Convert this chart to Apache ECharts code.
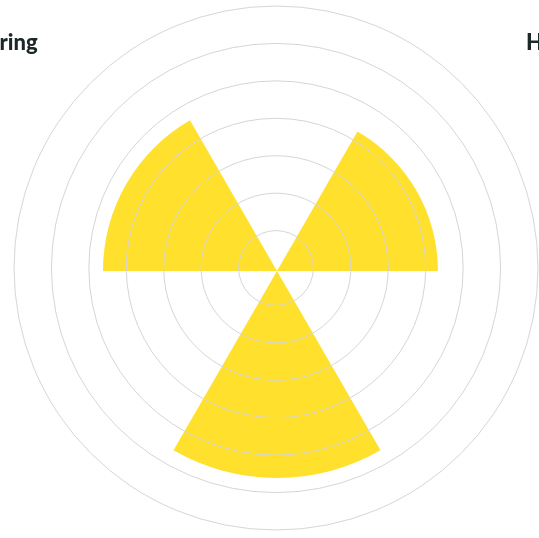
<!DOCTYPE html>
<html>
<head>
<meta charset="utf-8">
<script src="https://cdn.jsdelivr.net/npm/echarts@6/dist/echarts.min.js"></script>
<style>
  html, body { margin: 0; padding: 0; background: #ffffff; }
  #chart { width: 539px; height: 538px; }
</style>
</head>
<body>
<div id="chart"></div>
<script>
// Seasons and their values (radial length of each wedge)
const categories = ['Harvest', 'Winter', 'Spring'];
const values = [43, 55.3, 46.5];

// Radial scale shared by the rings and the wedges
const radiusMax = 70;
const radiusStep = 10;

const ink = '#1c2729';
const wedgeColor = '#FFE02C';
const ringColor = '#d6d6d6';

const chart = echarts.init(document.getElementById('chart'), null, { renderer: 'canvas' });

chart.setOption({
  animation: false,
  backgroundColor: '#ffffff',
  polar: [
    { center: [276, 268], radius: 262 },   // concentric reference rings
    { center: [277, 271], radius: 262 }    // wedges
  ],
  angleAxis: [
    {
      polarIndex: 0, type: 'category', data: categories, startAngle: 90,
      axisLine: { show: false }, axisTick: { show: false },
      axisLabel: { show: false }, splitLine: { show: false }
    },
    {
      polarIndex: 1, type: 'category', data: categories, startAngle: 90,
      axisLine: { show: false }, axisTick: { show: false },
      axisLabel: { show: false }, splitLine: { show: false }
    }
  ],
  radiusAxis: [
    {
      polarIndex: 0, min: 0, max: radiusMax, interval: radiusStep, z: 10,
      axisLine: { show: false }, axisTick: { show: false }, axisLabel: { show: false },
      splitLine: { show: true, lineStyle: { color: ringColor, width: 1 } }
    },
    {
      polarIndex: 1, min: 0, max: radiusMax, interval: radiusStep,
      axisLine: { show: false }, axisTick: { show: false }, axisLabel: { show: false },
      splitLine: { show: false }
    }
  ],
  series: [{
    type: 'bar',
    coordinateSystem: 'polar',
    polarIndex: 1,
    data: values,
    barCategoryGap: '50%',
    itemStyle: { color: wedgeColor },
    z: 2
  }],
  graphic: [
    {
      type: 'text', x: -25, y: 43,
      style: {
        text: categories[2], fill: ink,
        font: '900 22px Lato', textAlign: 'left', textVerticalAlign: 'middle'
      }
    },
    {
      type: 'text', x: 526, y: 43,
      style: {
        text: categories[0], fill: ink,
        font: '900 22px Lato', textAlign: 'left', textVerticalAlign: 'middle'
      }
    }
  ]
});
</script>
</body>
</html>
